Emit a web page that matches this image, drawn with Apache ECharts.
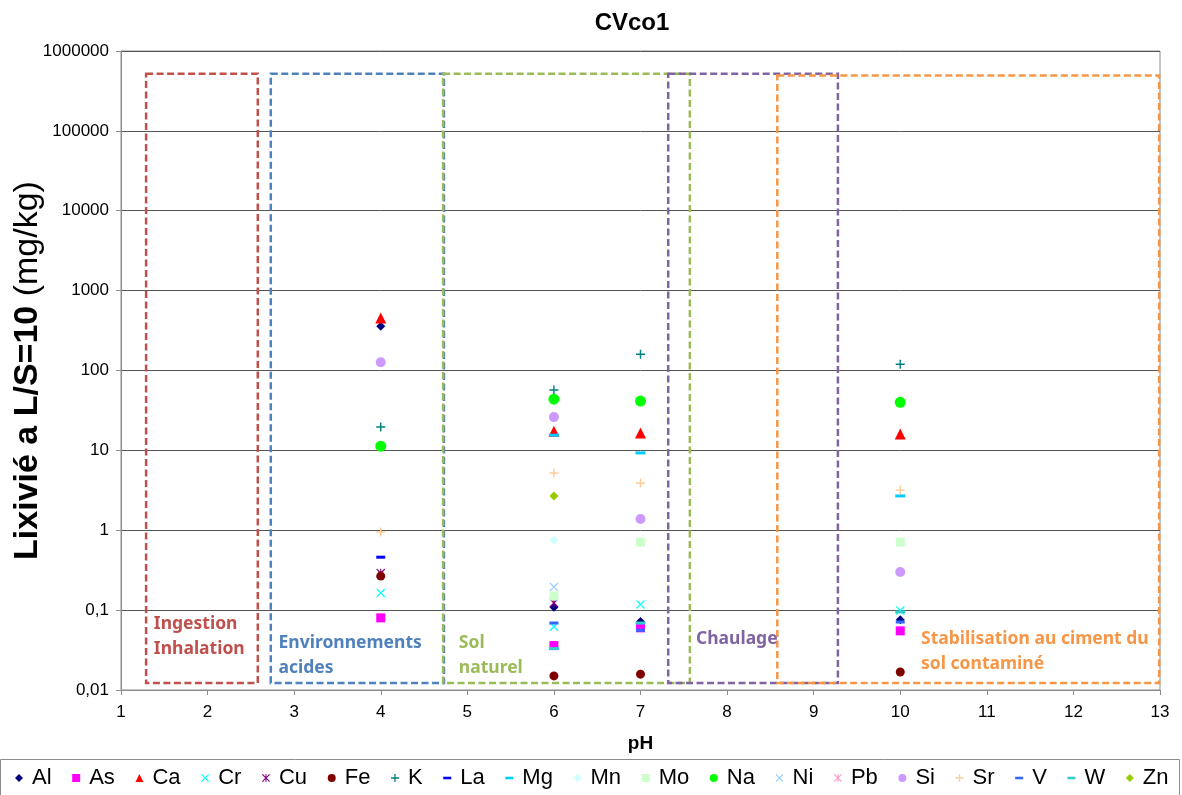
<!DOCTYPE html>
<html>
<head>
<meta charset="utf-8">
<script src="https://cdn.jsdelivr.net/npm/echarts@6/dist/echarts.min.js"></script>
<style>
  html, body { margin: 0; padding: 0; background: #fff; }
  #chart { width: 1182px; height: 795px; }
</style>
</head>
<body>
<div id="chart"></div>
<script>
// pH of each leaching test
const pH = [4, 6, 7, 10];

// Leached quantity at L/S=10 (mg/kg), one value per pH above (null = not measured)
const Al = [359, 0.109, 0.072, 0.076];
const As = [0.080, 0.036, 0.060, 0.055];
const Ca = [453, 17.4, 16.5, 16.0];
const Cr = [0.164, 0.062, 0.118, 0.099];
const Cu = [0.29, 0.123, null, null];
const Fe = [0.267, 0.0150, 0.0158, 0.0168];
const K  = [19.6, 56.9, 160, 120];
const La = [0.46, null, null, null];
const Mg = [null, 15.5, 9.3, 2.69];
const Mn = [null, 0.75, null, null];
const Mo = [null, 0.150, 0.71, 0.71];
const Na = [11.3, 43.8, 41.4, 40.0];
const Ni = [null, 0.195, null, null];
const Pb = [null, null, null, null];
const Si = [127, 26.1, 1.38, 0.30];
const Sr = [0.95, 5.2, 3.9, 3.18];
const V  = [null, 0.069, 0.056, 0.071];
const W  = [null, 0.033, 0.069, 0.095];
const Zn = [null, 2.68, null, null];

const elements = ['Al','As','Ca','Cr','Cu','Fe','K','La','Mg','Mn','Mo','Na','Ni','Pb','Si','Sr','V','W','Zn'];
const values = { Al, As, Ca, Cr, Cu, Fe, K, La, Mg, Mn, Mo, Na, Ni, Pb, Si, Sr, V, W, Zn };

// Application domains (pH range, leaching range, caption)
const domainNames  = ['Ingestion\nInhalation', 'Environnements\nacides', 'Sol\nnaturel', 'Chaulage', 'Stabilisation au ciment du\nsol contaminé'];
const domainPhFrom = [1.29, 2.73, 4.72, 7.32, 8.58];
const domainPhTo   = [2.58, 4.73, 7.57, 9.28, 12.99];
const domainTop    = [520000, 520000, 520000, 520000, 495000];
const domainBottom = [0.0122, 0.0122, 0.0122, 0.0122, 0.0122];

// Y tick labels (decades)
const yTickLabels = ['0,01', '0,1', '1', '10', '100', '1000', '10000', '100000', '1000000'];

// ---- marker shapes ----
const P_X = 'path://M1,0L5,4L9,0L10,1L6,5L10,9L9,10L5,6L1,10L0,9L4,5L0,1Z';
const P_PLUS = 'path://M4.2,0H5.8V4.2H10V5.8H5.8V10H4.2V5.8H0V4.2H4.2Z';
const P_STAR = 'path://M1,0L5,4L9,0L10,1L6,5L10,9L9,10L5,6L1,10L0,9L4,5L0,1Z M4.4,0H5.6V10H4.4Z';
const P_DASH = 'path://M0,0H10V3.2H0Z';

const styles = {
  Al: { c: '#000080', s: 'diamond', z: 9 },
  As: { c: '#FF00FF', s: 'rect', z: 9 },
  Ca: { c: '#FF0000', s: 'triangle', z: 11 },
  Cr: { c: '#00FFFF', s: P_X, z: 9 },
  Cu: { c: '#800080', s: P_STAR, z: 9 },
  Fe: { c: '#800000', s: 'circle', z: 9 },
  K:  { c: '#008080', s: P_PLUS, z: 9 },
  La: { c: '#0000FF', s: P_DASH, z: [9, 3] },
  Mg: { c: '#00CCFF', s: P_DASH, z: [10, 3] },
  Mn: { c: '#CCFFFF', s: 'diamond', z: 9 },
  Mo: { c: '#CCFFCC', s: 'rect', z: 9 },
  Na: { c: '#00FF00', s: 'circle', z: 11 },
  Ni: { c: '#99CCFF', s: P_X, z: 9 },
  Pb: { c: '#FF99CC', s: P_STAR, z: 9 },
  Si: { c: '#CC99FF', s: 'circle', z: 10 },
  Sr: { c: '#FFCC99', s: P_PLUS, z: 9 },
  V:  { c: '#3366FF', s: P_DASH, z: [9, 3] },
  W:  { c: '#33CCCC', s: P_DASH, z: [10, 3] },
  Zn: { c: '#99CC00', s: 'diamond', z: 9 }
};

const domainColors = ['#C0504D', '#4F81BD', '#9BBB59', '#8064A2', '#F79646'];
const domainLabelOffset = [[9, -23], [9, -4], [17, -4], [29, -33], [145, -8]];

const chart = echarts.init(document.getElementById('chart'), null, { renderer: 'canvas' });

const series = elements.map(name => ({
  name,
  type: 'scatter',
  symbol: styles[name].s,
  symbolSize: styles[name].z,
  itemStyle: { color: styles[name].c, opacity: 1 },
  data: pH.map((p, i) => values[name][i] == null ? null : [p, values[name][i]]).filter(d => d),
  z: 3
}));

// Dashed frames for the application domains
series.push({
  name: 'domaines',
  type: 'scatter',
  data: [],
  silent: true,
  z: 2,
  markArea: {
    silent: true,
    data: domainNames.map((n, i) => [
      {
        name: n,
        coord: [domainPhFrom[i], domainTop[i]],
        itemStyle: {
          color: 'rgba(0,0,0,0)',
          borderColor: domainColors[i],
          borderWidth: 2.5,
          borderType: [7, 3.5]
        },
        label: {
          show: true,
          position: 'insideBottomLeft',
          distance: 0,
          offset: domainLabelOffset[i],
          color: domainColors[i],
          fontFamily: 'Noto Sans',
          fontWeight: 'bold',
          fontSize: 17.5,
          lineHeight: 25,
          align: 'left'
        }
      },
      { coord: [domainPhTo[i], domainBottom[i]] }
    ])
  }
});

chart.setOption({
  animation: false,
  backgroundColor: '#fff',
  textStyle: { fontFamily: 'Liberation Sans, Arial, sans-serif' },
  title: {
    text: 'CVco1',
    left: 627,
    top: 6,
    textAlign: 'center',
    textStyle: { fontSize: 24, fontWeight: 'bold', color: '#000', fontFamily: 'Liberation Sans' }
  },
  grid: {
    left: 121, right: 22, top: 51, bottom: 105,
    containLabel: false,
    outerBoundsMode: 'none',
    show: true, borderColor: '#8c8c8c', borderWidth: 1, backgroundColor: 'transparent'
  },
  legend: {
    data: elements,
    left: 10,
    top: 762,
    width: 1172,
    itemWidth: 8,
    itemHeight: 8,
    itemGap: 20.6,
    symbolKeepAspect: true,
    textStyle: { fontSize: 22, color: '#000', fontFamily: 'Liberation Sans', padding: [0, 0, 0, 4] }
  },
  graphic: [{
    type: 'rect',
    shape: { x: 0.5, y: 759.5, width: 1179, height: 40 },
    style: { fill: 'none', stroke: '#8c8c8c', lineWidth: 1 },
    silent: true,
    z: -1
  }],
  xAxis: {
    type: 'value',
    min: 1, max: 13, interval: 1,
    name: 'pH',
    nameLocation: 'middle',
    nameGap: 44,
    nameMoveOverlap: false,
    nameTextStyle: { fontSize: 19, fontWeight: 'bold', color: '#000' },
    axisLine: { show: true, onZero: false, lineStyle: { color: '#8c8c8c', width: 1 } },
    axisTick: { show: true, length: 5, lineStyle: { color: '#8c8c8c' } },
    axisLabel: { fontSize: 17, color: '#000', margin: 14 },
    splitLine: { show: false }
  },
  yAxis: {
    type: 'log',
    logBase: 10,
    min: 0.01, max: 1000000,
    splitNumber: 8,
    name: '{b|Lixivié a L/S=10 }{n|(mg/kg)}',
    nameLocation: 'middle',
    nameGap: 76,
    nameMoveOverlap: false,
    nameRotate: 90,
    nameTextStyle: {
      rich: {
        b: { fontSize: 34, fontWeight: 'bold', color: '#000', fontFamily: 'Liberation Sans' },
        n: { fontSize: 34, color: '#000', fontFamily: 'Liberation Sans' }
      }
    },
    axisLine: { show: true, lineStyle: { color: '#8c8c8c', width: 1 } },
    axisTick: { show: true, length: 5, lineStyle: { color: '#8c8c8c' } },
    axisLabel: {
      fontSize: 17, color: '#000', margin: 12,
      formatter: v => yTickLabels[Math.round(Math.log10(v)) + 2]
    },
    splitLine: { show: true, lineStyle: { color: '#555', width: 1 } }
  },
  series
});
</script>
</body>
</html>
